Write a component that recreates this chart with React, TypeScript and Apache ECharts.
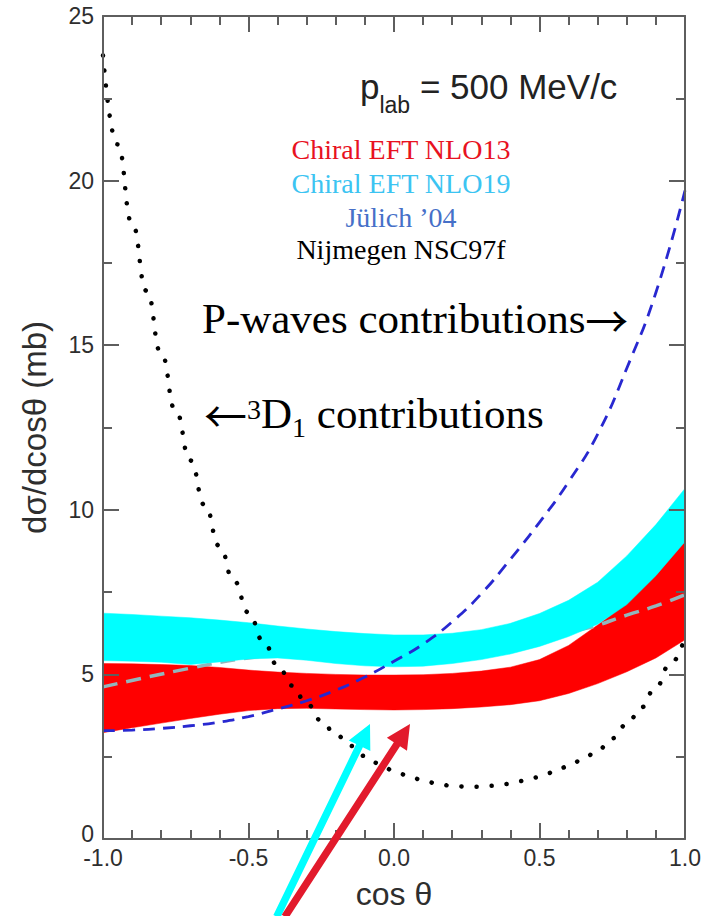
import React, { useEffect, useRef } from "react";
import * as echarts from "echarts";

// cos θ grid shared by the two chiral EFT bands and the Jülich curve
const cosTheta = [
  -1.0, -0.9, -0.8, -0.7, -0.6, -0.5, -0.4, -0.3, -0.2, -0.1, 0.0,
  0.1, 0.2, 0.3, 0.4, 0.5, 0.6, 0.7, 0.8, 0.9, 1.0,
];

// Chiral EFT NLO13 band, dσ/dcosθ in mb
const nlo13Lower = [
  3.23, 3.38, 3.52, 3.66, 3.79, 3.9, 3.96, 3.97, 3.95, 3.93, 3.92,
  3.93, 3.96, 4.01, 4.08, 4.2, 4.42, 4.72, 5.08, 5.5, 6.05,
];
const nlo13Upper = [
  5.33, 5.32, 5.3, 5.27, 5.21, 5.13, 5.07, 5.03, 5.0, 4.98, 4.98,
  4.99, 5.03, 5.1, 5.22, 5.45, 5.88, 6.5, 7.16, 8.05, 9.05,
];

// Chiral EFT NLO19 band
const nlo19Lower = [
  5.42, 5.4, 5.37, 5.3, 5.38, 5.47, 5.5, 5.43, 5.33, 5.26, 5.23,
  5.25, 5.33, 5.45, 5.62, 5.85, 6.15, 6.52, 7.12, 8.0, 9.03,
];
const nlo19Upper = [
  6.86, 6.82, 6.77, 6.72, 6.65, 6.57, 6.47, 6.38, 6.3, 6.24, 6.2,
  6.2, 6.25, 6.36, 6.55, 6.85, 7.25, 7.8, 8.6, 9.55, 10.65,
];

// Jülich '04
const julich04 = [
  3.29, 3.31, 3.36, 3.44, 3.55, 3.72, 3.95, 4.2, 4.52, 4.92, 5.4,
  5.92, 6.6, 7.45, 8.5, 9.62, 10.85, 12.3, 14.3, 16.6, 19.7,
];

// Nijmegen NSC97f
const nscCosTheta = [
  -1.0, -0.95, -0.9, -0.85, -0.8, -0.75, -0.7, -0.65, -0.6, -0.55, -0.5,
  -0.45, -0.4, -0.35, -0.3, -0.25, -0.2, -0.15, -0.1, -0.05, 0.0,
  0.05, 0.1, 0.15, 0.2, 0.25, 0.3, 0.35, 0.4, 0.45, 0.5,
  0.55, 0.6, 0.65, 0.7, 0.75, 0.8, 0.85, 0.9, 0.95, 1.0,
];
const nsc97f = [
  23.8, 21.1, 18.7, 16.65, 14.75, 13.0, 11.5, 10.14, 8.9, 7.84, 6.88,
  6.03, 5.28, 4.66, 4.11, 3.6, 3.17, 2.83, 2.52, 2.29, 2.07,
  1.92, 1.78, 1.68, 1.61, 1.59, 1.59, 1.62, 1.68, 1.77, 1.88,
  2.03, 2.21, 2.42, 2.7, 3.06, 3.48, 4.0, 4.62, 5.33, 6.15,
];

// grey dashed curve (runs under the NLO19 band in the middle)
const greyCosTheta = [-1.0, -0.7, -0.5, -0.3, 0.0, 0.3, 0.5, 0.66, 0.8, 0.9, 1.0];
const greyValues = [4.62, 5.19, 5.5, 5.68, 5.82, 5.98, 6.15, 6.4, 6.8, 7.08, 7.42];

// axis ranges
const xRange = [-1, 1];
const yRange = [0, 25];

// annotation arrows: tail and tip in (cos θ, mb)
const arrows = [
  { tail: [-0.403, -2.36], tip: [-0.0825, 3.49], color: "#00ffff" },
  { tail: [-0.375, -2.36], tip: [0.055, 3.49], color: "#e21a2c" },
];

const SANS = "Liberation Sans";
const SERIF = "Liberation Serif";
const ARROW_FONT = "Noto Sans CJK SC";

// distance from the alphabetic baseline up to the em-box centre, per family
const CENTRAL: Record<string, number> = {
  [SANS]: 0.3467,
  [SERIF]: 0.3375,
  [ARROW_FONT]: 0.38,
};

const measureCtx =
  typeof document !== "undefined"
    ? document.createElement("canvas").getContext("2d")
    : null;
function textWidth(text: string, size: number, family: string) {
  if (!measureCtx) return text.length * size * 0.5;
  measureCtx.font = `${size}px "${family}"`;
  return measureCtx.measureText(text).width;
}

// text placed by its alphabetic baseline
function label(
  text: string,
  x: number,
  baseline: number,
  size: number,
  family: string,
  fill: string,
  align: string = "left"
) {
  const c = CENTRAL[family] ?? 0.34;
  return {
    type: "text",
    x,
    y: baseline - c * size,
    z: 100,
    silent: true,
    style: {
      text,
      font: `${size}px "${family}"`,
      fill,
      textAlign: align,
      textVerticalAlign: "middle",
    },
  };
}

type Run = { t: string; size: number; baseline: number; family: string; fill: string };

// consecutive runs of text on one line, each with its own size and baseline
function runs(x0: number, parts: Run[]) {
  let x = x0;
  const out: any[] = [];
  for (const p of parts) {
    out.push(label(p.t, x, p.baseline, p.size, p.family, p.fill));
    x += textWidth(p.t, p.size, p.family);
  }
  return out;
}

function bandSeries(name: string, lower: number[], upper: number[], color: string, z: number) {
  return {
    type: "custom",
    name,
    z,
    silent: true,
    clip: true,
    data: [[cosTheta[0], lower[0]]],
    encode: { x: 0, y: 1 },
    renderItem: (_params: any, api: any) => {
      const points: number[][] = [];
      for (let i = 0; i < cosTheta.length; i++) points.push(api.coord([cosTheta[i], upper[i]]));
      for (let i = cosTheta.length - 1; i >= 0; i--) points.push(api.coord([cosTheta[i], lower[i]]));
      return {
        type: "polygon",
        shape: { points },
        style: { fill: color, stroke: color, lineWidth: 0.5 },
      };
    },
  };
}

function arrowPolygon(tail: number[], tip: number[], color: string) {
  const dx = tip[0] - tail[0];
  const dy = tip[1] - tail[1];
  const len = Math.hypot(dx, dy);
  const ux = dx / len;
  const uy = dy / len;
  const nx = -uy;
  const ny = ux;
  const headLen = 24;
  const headHalf = 12;
  const shaftHalf = 3.7;
  const bx = tip[0] - ux * headLen;
  const by = tip[1] - uy * headLen;
  const points = [
    [tail[0] + nx * shaftHalf, tail[1] + ny * shaftHalf],
    [bx + nx * shaftHalf, by + ny * shaftHalf],
    [bx + nx * headHalf, by + ny * headHalf],
    [tip[0], tip[1]],
    [bx - nx * headHalf, by - ny * headHalf],
    [bx - nx * shaftHalf, by - ny * shaftHalf],
    [tail[0] - nx * shaftHalf, tail[1] - ny * shaftHalf],
  ];
  return { type: "polygon", z: 100, silent: true, shape: { points }, style: { fill: color } };
}

const AXIS_COLOR = "#5e5e5e";
const LABEL_COLOR = "#2e2e2e";

function axisCommon(showLabels: boolean) {
  return {
    z: 10,
    axisLine: { show: true, onZero: false, lineStyle: { color: AXIS_COLOR, width: 2 } },
    axisTick: { show: true, inside: true, length: 16, lineStyle: { color: AXIS_COLOR, width: 2 } },
    minorTick: { show: true, length: 9, lineStyle: { color: AXIS_COLOR, width: 2 } },
    splitLine: { show: false },
    minorSplitLine: { show: false },
    axisLabel: {
      show: showLabels,
      fontFamily: SANS,
      fontSize: 23,
      lineHeight: 17,
      color: LABEL_COLOR,
    },
  };
}

export default function App() {
  const ref = useRef<HTMLDivElement>(null);

  useEffect(() => {
    document.body.style.margin = "0";
    if (!ref.current) return;
    const chart = echarts.init(ref.current, null, { renderer: "svg" });

    const xBase = axisCommon(true);
    const yBase = axisCommon(true);

    chart.setOption({
      animation: false,
      backgroundColor: "#ffffff",
      grid: { left: 103, right: 19, top: 16, bottom: 77, containLabel: false },
      xAxis: [
        {
          ...xBase,
          type: "value",
          position: "bottom",
          min: xRange[0],
          max: xRange[1],
          interval: 0.5,
          minorTick: { ...xBase.minorTick, splitNumber: 5 },
          axisLabel: {
            ...xBase.axisLabel,
            margin: 10,
            formatter: (v: number) => v.toFixed(1),
          },
          name: "cos θ",
          nameLocation: "middle",
          nameGap: 39,
          nameTextStyle: { fontFamily: SANS, fontSize: 32, color: LABEL_COLOR },
        },
        {
          ...axisCommon(false),
          type: "value",
          position: "top",
          min: xRange[0],
          max: xRange[1],
          interval: 0.5,
          minorTick: { ...xBase.minorTick, splitNumber: 5 },
        },
      ],
      yAxis: [
        {
          ...yBase,
          type: "value",
          position: "left",
          min: yRange[0],
          max: yRange[1],
          interval: 5,
          minorTick: { ...yBase.minorTick, splitNumber: 2 },
          axisLabel: {
            ...yBase.axisLabel,
            margin: 9,
            // the zero label sits a little higher so it clears the "-1.0" below it
            formatter: (v: number) => (v === 0 ? "{zero|0}" : String(v)),
            rich: {
              zero: {
                fontFamily: SANS,
                fontSize: 23,
                lineHeight: 17,
                color: LABEL_COLOR,
                padding: [0, 0, 10, 0],
              },
            },
          },
          name: "dσ/dcosθ (mb)",
          nameLocation: "middle",
          nameRotate: 90,
          nameGap: 52,
          nameTextStyle: { fontFamily: SANS, fontSize: 33, color: LABEL_COLOR },
        },
        {
          ...axisCommon(false),
          type: "value",
          position: "right",
          min: yRange[0],
          max: yRange[1],
          interval: 5,
          minorTick: { ...yBase.minorTick, splitNumber: 2 },
        },
      ],
      series: [
        bandSeries("Chiral EFT NLO13", nlo13Lower, nlo13Upper, "#ff0000", 1),
        {
          type: "line",
          name: "grey dashed",
          z: 2,
          silent: true,
          smooth: true,
          showSymbol: false,
          data: greyCosTheta.map((x, i) => [x, greyValues[i]]),
          lineStyle: { color: "#92b6bc", width: 3.5, type: [15, 9] },
        },
        bandSeries("Chiral EFT NLO19", nlo19Lower, nlo19Upper, "#00ffff", 3),
        {
          type: "line",
          name: "Jülich '04",
          z: 4,
          silent: true,
          smooth: true,
          showSymbol: false,
          data: cosTheta.map((x, i) => [x, julich04[i]]),
          lineStyle: { color: "#2828d0", width: 2.8, type: [12, 8] },
        },
        {
          type: "line",
          name: "Nijmegen NSC97f",
          z: 5,
          silent: true,
          smooth: true,
          smoothMonotone: "x",
          showSymbol: false,
          data: nscCosTheta.map((x, i) => [x, nsc97f[i]]),
          lineStyle: { color: "#000000", width: 4.5, type: [0.1, 15], cap: "round" },
        },
      ],
    });

    const toPx = (p: number[]) => chart.convertToPixel({ gridIndex: 0 }, p) as number[];

    const black = "#000000";
    const graphics: any[] = [
      ...runs(360, [
        { t: "p", size: 35, baseline: 99, family: SANS, fill: "#222222" },
        { t: "lab", size: 23, baseline: 113, family: SANS, fill: "#222222" },
        { t: " = 500 MeV/c", size: 35, baseline: 99, family: SANS, fill: "#222222" },
      ]),
      label("Chiral EFT NLO13", 401, 159, 28, SERIF, "#e8121f", "center"),
      label("Chiral EFT NLO19", 401, 193, 28, SERIF, "#3cc4f2", "center"),
      label("Jülich ’04", 401, 227, 28, SERIF, "#4670c8", "center"),
      label("Nijmegen NSC97f", 401, 259, 28, SERIF, black, "center"),
      ...runs(202, [
        { t: "P-waves contributions", size: 43, baseline: 333, family: SERIF, fill: black },
        { t: "→", size: 43, baseline: 335, family: ARROW_FONT, fill: black },
      ]),
      ...runs(204, [
        { t: "←", size: 43, baseline: 430, family: ARROW_FONT, fill: black },
        { t: "3", size: 28, baseline: 419, family: SERIF, fill: black },
        { t: "D", size: 43, baseline: 428, family: SERIF, fill: black },
        { t: "1", size: 28, baseline: 437, family: SERIF, fill: black },
        { t: " contributions", size: 43, baseline: 428, family: SERIF, fill: black },
      ]),
      ...arrows.map((a) => arrowPolygon(toPx(a.tail), toPx(a.tip), a.color)),
    ];

    chart.setOption({ graphic: graphics });

    return () => {
      chart.dispose();
    };
  }, []);

  return (
    <div
      ref={ref}
      style={{ position: "absolute", left: 0, top: 0, width: 704, height: 916 }}
    />
  );
}
